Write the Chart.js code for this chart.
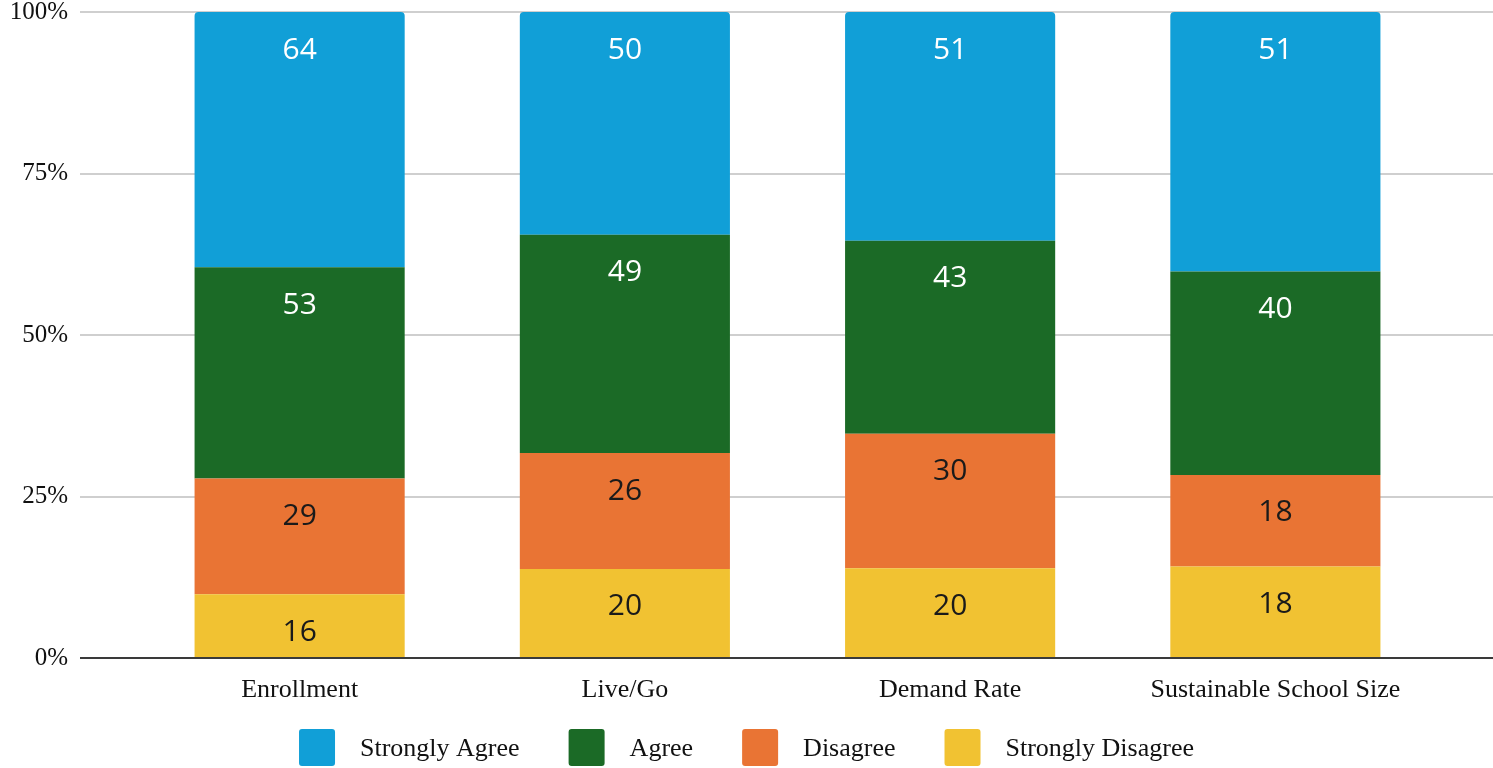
<!DOCTYPE html>
<html>
<head>
<meta charset="utf-8">
<script src="https://cdn.jsdelivr.net/npm/chart.js@4.4.1/dist/chart.umd.min.js"></script>
<style>
  html, body { margin: 0; padding: 0; background: #fff; }
</style>
</head>
<body>
<canvas id="chart" width="1493" height="768"></canvas>
<script>
const categories = ['Enrollment', 'Live/Go', 'Demand Rate', 'Sustainable School Size'];
const stronglyDisagree = [16, 20, 20, 18];
const disagree = [29, 26, 30, 18];
const agree = [53, 49, 43, 40];
const stronglyAgree = [64, 50, 51, 51];
const yTicks = [0, 25, 50, 75, 100];

const serif = '"Liberation Serif", "Times New Roman", serif';
const textColor = '#111111';
const gridColor = '#cfcfcf';
const zeroColor = '#3a3a3a';

// totals per category, bars are shown as share of the total
const totals = categories.map((_, i) =>
  stronglyDisagree[i] + disagree[i] + agree[i] + stronglyAgree[i]);
const pct = arr => arr.map((v, i) => v / totals[i] * 100);

// bottom of the stack first
const series = [
  { label: 'Strongly Disagree', counts: stronglyDisagree, color: '#f1c232', text: '#1a1a1a' },
  { label: 'Disagree', counts: disagree, color: '#e97434', text: '#1a1a1a' },
  { label: 'Agree', counts: agree, color: '#1b6a26', text: '#ffffff' },
  { label: 'Strongly Agree', counts: stronglyAgree, color: '#119fd7', text: '#ffffff' }
];

const valueLabels = {
  id: 'valueLabels',
  afterDatasetsDraw(chart) {
    const ctx = chart.ctx;
    ctx.save();
    ctx.font = '30px "Open Sans", Roboto, sans-serif';
    ctx.textAlign = 'center';
    ctx.textBaseline = 'middle';
    chart.data.datasets.forEach((ds, i) => {
      chart.getDatasetMeta(i).data.forEach((bar, j) => {
        ctx.fillStyle = ds.labelColor;
        ctx.fillText(String(ds.counts[j]), bar.x, bar.y + 38);
      });
    });
    ctx.restore();
  }
};

const bottomLegend = {
  id: 'bottomLegend',
  afterDraw(chart) {
    const ctx = chart.ctx;
    const box = 36, boxGap = 25, itemGap = 49, cy = 748;
    const items = chart.data.datasets.slice().reverse();
    ctx.save();
    ctx.font = '26px ' + serif;
    ctx.textBaseline = 'middle';
    const widths = items.map(ds => ctx.measureText(ds.label).width);
    let total = 0;
    widths.forEach((w, i) => { total += box + boxGap + w + (i < widths.length - 1 ? itemGap : 0); });
    let x = (chart.width - total) / 2;
    items.forEach((ds, i) => {
      ctx.fillStyle = ds.backgroundColor;
      ctx.beginPath();
      ctx.roundRect(x, cy - box / 2 - 1, box, box + 1, 3);
      ctx.fill();
      ctx.fillStyle = textColor;
      ctx.fillText(ds.label, x + box + boxGap, cy + 1);
      x += box + boxGap + widths[i] + itemGap;
    });
    ctx.restore();
  }
};

new Chart(document.getElementById('chart'), {
  type: 'bar',
  data: {
    labels: categories,
    datasets: series.map((s, i) => ({
      label: s.label,
      data: pct(s.counts),
      counts: s.counts,
      labelColor: s.text,
      backgroundColor: s.color,
      borderWidth: 0,
      borderRadius: i === series.length - 1 ? { topLeft: 4, topRight: 4, bottomLeft: 0, bottomRight: 0 } : 0,
      borderSkipped: false,
      categoryPercentage: 1,
      barPercentage: 0.646
    }))
  },
  options: {
    responsive: false,
    animation: false,
    devicePixelRatio: 1,
    layout: { padding: { top: 12, left: 0, right: 0, bottom: 0 } },
    plugins: {
      legend: { display: false },
      tooltip: { enabled: false }
    },
    scales: {
      x: {
        stacked: true,
        grid: { display: false },
        border: { display: false },
        ticks: { font: { family: serif, size: 26 }, color: textColor, padding: 9, maxRotation: 0 },
        afterFit: s => { s.height = 110; s.paddingLeft = 0; s.paddingRight = 0; }
      },
      y: {
        stacked: true,
        min: 0,
        max: 100,
        afterBuildTicks: s => { s.ticks = yTicks.map(v => ({ value: v })); },
        ticks: { callback: v => v + '%', font: { family: serif, size: 25 }, color: textColor, padding: 12 },
        grid: {
          color: c => c.tick && c.tick.value === 0 ? zeroColor : gridColor,
          lineWidth: 2,
          tickLength: 57
        },
        border: { display: false },
        afterFit: s => { s.width = 137; s.paddingTop = 0; s.paddingBottom = 0; }
      },
      yRight: {
        position: 'right',
        min: 0,
        max: 100,
        afterBuildTicks: s => { s.ticks = yTicks.map(v => ({ value: v })); },
        ticks: { display: false },
        grid: {
          drawOnChartArea: false,
          color: c => c.tick && c.tick.value === 0 ? zeroColor : gridColor,
          lineWidth: 2,
          tickLength: 55
        },
        border: { display: false },
        afterFit: s => { s.width = 55; s.paddingTop = 0; s.paddingBottom = 0; }
      }
    }
  },
  plugins: [valueLabels, bottomLegend]
});
</script>
</body>
</html>
